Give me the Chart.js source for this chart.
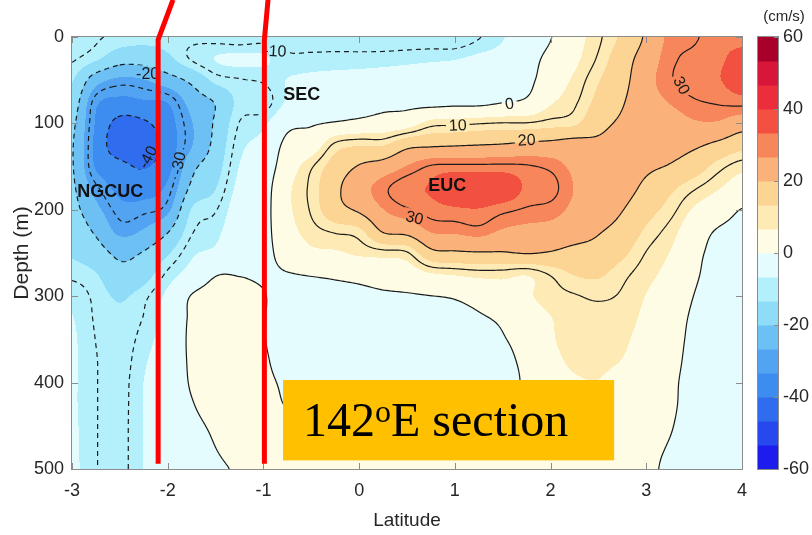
<!DOCTYPE html>
<html>
<head>
<meta charset="utf-8">
<script src="https://cdn.jsdelivr.net/npm/chart.js@4.4.1/dist/chart.umd.min.js"></script>
<style>
  html, body { margin: 0; padding: 0; background: #fff; }
</style>
</head>
<body>
<canvas id="chart" width="812" height="535"></canvas>
<script>
// grid of the section: latitude (deg) x depth (m)
const latitudes = [-3, -2.75, -2.5, -2.25, -2, -1.75, -1.5, -1.25, -1, -0.75, -0.5, -0.25, 0, 0.25, 0.5, 0.75, 1, 1.25, 1.5, 1.75, 2, 2.25, 2.5, 2.75, 3, 3.25, 3.5, 3.75, 4];
const depths = [0, 25, 50, 75, 100, 125, 150, 175, 200, 225, 250, 275, 300, 325, 350, 375, 400, 425, 450, 475, 500];

// zonal velocity (cm/s), one row per depth
const u0   = [-8, -9.5, -11, -12, -12, -11, -11.5, -12.5, -11.5, -12, -12, -12, -12, -12.5, -12.5, -12.5, -13, -10.3, -7, -3, -0.2, 4.5, 9.2, 14.5, 21, 28, 29.5, 32, 32];
const u25  = [-9.5, -12.5, -17, -17, -14.5, -9.5, -6.5, -5.5, -6, -9, -9, -8.8, -8.8, -8.5, -8, -7.5, -7, -5.5, -4.5, -2, 1.5, 5.5, 10.6, 17, 23, 29, 31, 32.5, 35];
const u50  = [-13, -24, -28, -27, -23, -18.5, -12, -10.3, -9.5, -6.5, -5.5, -5, -4.5, -4, -3.5, -3, -2.5, -2, -2, -1.5, 3.5, 7.5, 13, 18, 24.5, 29.5, 32, 33, 36];
const u75  = [-16, -32, -35, -34, -33, -24, -19.5, -12, -12, -6, -4, -3, -2.5, -1.5, -1.5, -2, -1.5, -1.5, -0.3, 1, 6, 9.3, 15, 19.5, 24, 27, 29.5, 30.5, 31.5];
const u100 = [-18.5, -34, -42, -41, -36, -27, -19, -9.8, -7.5, -1.5, -0.5, 0.5, 1.5, 2.5, 4, 8.5, 9, 9.8, 10.3, 10.3, 11.5, 12.5, 18, 21, 23, 24, 26, 26, 23];
const u125 = [-19.5, -35, -44, -44, -37, -27, -18, -8, -5, 1.5, 3, 11, 13, 13, 18, 19, 19.5, 20, 20.5, 21.5, 22, 23, 21.5, 22.5, 22, 22, 21, 18.5, 15.5];
const u150 = [-19.5, -34, -38, -40.5, -35.5, -22, -16, -6.5, -3.5, 3.5, 9.5, 16, 20.5, 23, 27, 30.5, 31, 31, 31, 30.5, 29, 25.5, 24, 23, 21, 19.5, 16.5, 11.5, 8];
const u175 = [-19, -29, -35, -36, -32, -18.5, -13.5, -5, -2.5, 5.5, 11, 18.5, 24, 29, 32.5, 33.8, 38, 38, 37.5, 32.5, 31.5, 26.5, 24.5, 22.5, 18.5, 14.5, 10.5, 7, 4];
const u200 = [-18, -25, -31.5, -31, -28, -13, -10.3, -3.5, -2, 5.5, 10.5, 17.5, 21, 26.5, 29.5, 31.5, 32.5, 33, 31, 29.5, 28.5, 25.5, 23.5, 20.2, 15.5, 11.5, 6, 3, -0.2];
const u225 = [-16, -21, -28, -26, -20.5, -10.5, -8, -2.5, -1.8, 4.5, 8.5, 10.5, 12, 20.5, 22, 27, 27.5, 28.5, 26, 25, 24.5, 23, 20.5, 17.5, 12.5, 8.5, 3, -0.5, -1.5];
const u250 = [-14, -17, -21.5, -19.5, -14, -7.5, -5.5, -1.5, -1.5, 2.5, 5.5, 6, 7.5, 8.5, 9.5, 18, 19, 19.5, 19.5, 20.3, 19.5, 18, 17.5, 14.5, 9.8, 6.5, 1.5, -1.5, -2.5];
const u275 = [-11, -13, -18, -16, -9, -4.5, -0.3, -0.2, -0.8, -0.3, 0.3, 0.8, 1.5, 2.5, 3.5, 6, 7, 8, 8, 7, 10.3, 13.5, 14, 11, 8, 5, 0.8, -2, -3];
const u300 = [-7.5, -11, -14, -11, -5.5, 0.3, 2, 2.5, 0.3, -2, -2, -1.5, -1.2, -0.7, -0.5, -0.1, 0.5, 2, 4.5, 6, 8.5, 9.7, 10.5, 9.5, 6.5, 3.5, -0.1, -2.5, -3.5];
const u325 = [-6.5, -10.5, -12.5, -9.8, -4.5, 0.8, 3, 3.5, 0.3, -2.5, -2.5, -2.5, -2.5, -2, -2, -1.5, -1, -0.5, 1, 4, 6.5, 9, 9, 8.5, 5.5, 2.5, -0.8, -2.8, -3.5];
const u350 = [-6, -10.1, -12, -8.5, -4, 1, 3.5, 4, 0.3, -2.5, -2.7, -3, -3, -3, -2.8, -2.5, -2, -1.5, -0.3, 2, 6, 8.5, 8, 7.5, 4.5, 2, -1.2, -3, -3.5];
const u375 = [-6, -9.8, -11.8, -7.3, -3.5, 0.8, 3.5, 4, 0.8, -2, -2.5, -3, -3, -3, -3, -2.5, -2, -1.5, -0.8, 1, 5, 7.5, 7.3, 6.5, 3.5, 1.5, -1.5, -3, -3.5];
const u400 = [-6, -9.8, -11.5, -6.6, -3.5, 0.5, 3, 3.8, 1.2, -0.8, -1.8, -2.5, -2.5, -2.5, -2.5, -2, -1.5, -1, -0.6, 0.5, 4, 6, 6.5, 5, 3, 1, -1.8, -3, -3.5];
const u425 = [-6, -9.8, -11.4, -6.5, -3.5, -0.3, 2, 3.3, 1.5, -0.2, -0.5, -1, -1, -1, -1, -0.8, -0.5, -0.3, -0.1, 0.8, 3.5, 4.5, 5, 4, 2, 0.8, -2, -3, -3.5];
const u450 = [-5.8, -9.8, -11.3, -6.5, -3.5, -1.2, 0.8, 2.5, 1.8, 0.8, 0.7, 0.5, 0.5, 0.5, 0.5, 0.5, 0.5, 0.5, 0.8, 1.6, 3, 3.5, 4, 3, 1.5, 0.3, -2.2, -3, -3.5];
const u475 = [-5.7, -9.8, -11.3, -6.5, -3.5, -2, 0, 1.5, 2, 1.5, 1.5, 1.5, 1.5, 1.5, 1.5, 1.5, 1.5, 1.5, 1.5, 2, 3, 3, 3, 2.5, 1, -0.3, -2.3, -3, -3.5];
const u500 = [-5.5, -9.8, -11.3, -6.5, -3.5, -2.5, -0.7, 0.5, 2, 2, 2, 2, 2, 2, 2, 2, 2, 2, 2, 2.3, 3, 3, 2.5, 2, 0.8, -0.8, -2.5, -3, -3.5];
const velocity = [u0, u25, u50, u75, u100, u125, u150, u175, u200, u225, u250, u275, u300, u325, u350, u375, u400, u425, u450, u475, u500];

const latTicks = [-3, -2, -1, 0, 1, 2, 3, 4];
const depthTicks = [0, 100, 200, 300, 400, 500];
const cbarTicks = [-60, -40, -20, 0, 20, 40, 60];
const contourLevels = [-40, -30, -20, -10, 0, 10, 20, 30];

// the two section lines drawn on the figure (lat, depth)
const westLine = [{ x: -2.10, y: 494 }, { x: -2.10, y: 3 }, { x: -1.945, y: -43 }];
const eastLine = [{ x: -0.99, y: 494 }, { x: -0.99, y: 3 }, { x: -0.952, y: -43 }];

const contourLabels = [
  { text: '-20', lat: -2.21, depth: 42, angle: 0 },
  { text: '-40', lat: -2.21, depth: 139, angle: -62 },
  { text: '-30', lat: -1.89, depth: 146, angle: -78 },
  { text: '-10', lat: -0.88, depth: 16, angle: 3 },
  { text: '0', lat: 1.57, depth: 77, angle: -8 },
  { text: '10', lat: 1.03, depth: 102, angle: -2 },
  { text: '20', lat: 1.75, depth: 119, angle: -3 },
  { text: '30', lat: 0.58, depth: 209, angle: 14 },
  { text: '30', lat: 3.37, depth: 56, angle: 62 }
];
const currentNames = [
  { text: 'NGCUC', lat: -2.60, depth: 180 },
  { text: 'SEC', lat: -0.60, depth: 67 },
  { text: 'EUC', lat: 0.92, depth: 173 }
];

// 18 colour bands from -60 to 60
const bandColors = ['#1c1cee', '#2648ec', '#2f6cee', '#3d8cf0', '#52a4f2', '#6cc0f4', '#8edcf8', '#b4f0fc', '#e4fcfe',
                    '#fffce6', '#fdeab4', '#fcd494', '#fab27a', '#f7865a', '#f25040', '#ec2e3c', '#d8163a', '#a8002a'];
const cMin = -60, cMax = 60, bandStep = (cMax - cMin) / bandColors.length;
const bandRGB = bandColors.map(h => [parseInt(h.slice(1, 3), 16), parseInt(h.slice(3, 5), 16), parseInt(h.slice(5, 7), 16)]);

const axisGrey = '#8c8c8c';
const textDark = '#262626';
const sans = "'Liberation Sans', Arial, Helvetica, sans-serif";

Chart.defaults.font.family = sans;
Chart.defaults.color = textDark;

// Catmull-Rom interpolation of the grid, used only for smooth drawing
function catmull(p0, p1, p2, p3, t) {
  return p1 + 0.5 * t * (p2 - p0 + t * (2 * p0 - 5 * p1 + 4 * p2 - p3 + t * (3 * (p1 - p2) + p3 - p0)));
}
function sampleField(lat, depth) {
  const nx = latitudes.length, ny = depths.length;
  const fx = (lat - latitudes[0]) / (latitudes[1] - latitudes[0]);
  const fy = (depth - depths[0]) / (depths[1] - depths[0]);
  const ix = Math.min(nx - 2, Math.max(0, Math.floor(fx)));
  const iy = Math.min(ny - 2, Math.max(0, Math.floor(fy)));
  const tx = fx - ix, ty = fy - iy;
  const val = (i, j) => velocity[Math.min(ny - 1, Math.max(0, j))][Math.min(nx - 1, Math.max(0, i))];
  const r = [];
  for (let m = -1; m <= 2; m++) {
    r.push(catmull(val(ix - 1, iy + m), val(ix, iy + m), val(ix + 1, iy + m), val(ix + 2, iy + m), tx));
  }
  return catmull(r[0], r[1], r[2], r[3], ty);
}

// marching squares, segments joined into polylines
function traceContours(vals, xs, ys, level) {
  const nx = xs.length, ny = ys.length;
  const g = (i, j) => vals[j * nx + i];
  const H = (i, j) => (j * nx + i) * 2;
  const V = (i, j) => (j * nx + i) * 2 + 1;
  const segA = [], segB = [];
  const add = (e1, e2) => { segA.push(e1); segB.push(e2); };
  for (let j = 0; j < ny - 1; j++) {
    for (let i = 0; i < nx - 1; i++) {
      const a = g(i, j), b = g(i + 1, j), c = g(i + 1, j + 1), d = g(i, j + 1);
      const code = (a > level ? 8 : 0) | (b > level ? 4 : 0) | (c > level ? 2 : 0) | (d > level ? 1 : 0);
      if (code === 0 || code === 15) continue;
      const T = H(i, j), R = V(i + 1, j), B = H(i, j + 1), L = V(i, j);
      switch (code) {
        case 1: case 14: add(L, B); break;
        case 2: case 13: add(B, R); break;
        case 3: case 12: add(L, R); break;
        case 4: case 11: add(T, R); break;
        case 6: case 9: add(T, B); break;
        case 7: case 8: add(T, L); break;
        case 5: case 10: {
          const centerUp = (a + b + c + d) / 4 > level;
          if ((code === 5) === centerUp) { add(T, L); add(B, R); } else { add(T, R); add(L, B); }
          break;
        }
      }
    }
  }
  const point = e => {
    const k = e >> 1, i = k % nx, j = (k - i) / nx;
    if (e & 1) {
      const v0 = g(i, j), v1 = g(i, j + 1), t = (level - v0) / (v1 - v0);
      return [xs[i], ys[j] + t * (ys[j + 1] - ys[j])];
    }
    const v0 = g(i, j), v1 = g(i + 1, j), t = (level - v0) / (v1 - v0);
    return [xs[i] + t * (xs[i + 1] - xs[i]), ys[j]];
  };
  const byEdge = new Map();
  for (let s = 0; s < segA.length; s++) {
    for (const e of [segA[s], segB[s]]) {
      if (!byEdge.has(e)) byEdge.set(e, []);
      byEdge.get(e).push(s);
    }
  }
  const used = new Uint8Array(segA.length);
  const lines = [];
  for (let s0 = 0; s0 < segA.length; s0++) {
    if (used[s0]) continue;
    used[s0] = 1;
    const chain = [segA[s0], segB[s0]];
    for (let dir = 0; dir < 2; dir++) {
      while (true) {
        const end = chain[chain.length - 1];
        const next = byEdge.get(end).find(s => !used[s]);
        if (next === undefined) break;
        used[next] = 1;
        chain.push(segA[next] === end ? segB[next] : segA[next]);
      }
      chain.reverse();
    }
    lines.push(chain.map(point));
  }
  return lines;
}

const sectionPlugin = {
  id: 'section',
  beforeDatasetsDraw(chart) {
    const { ctx, chartArea: a, scales: { x, y } } = chart;
    const w = Math.round(a.right - a.left), h = Math.round(a.bottom - a.top);

    // filled bands
    const img = ctx.createImageData(w, h);
    for (let py = 0; py < h; py++) {
      const depth = y.getValueForPixel(a.top + py + 0.5);
      for (let px = 0; px < w; px++) {
        const v = sampleField(x.getValueForPixel(a.left + px + 0.5), depth);
        const k = Math.min(bandColors.length - 1, Math.max(0, Math.floor((v - cMin) / bandStep)));
        const c = bandRGB[k], o = (py * w + px) * 4;
        img.data[o] = c[0]; img.data[o + 1] = c[1]; img.data[o + 2] = c[2]; img.data[o + 3] = 255;
      }
    }
    ctx.putImageData(img, Math.round(a.left), Math.round(a.top));

    // contour lines
    const step = 2;
    const xs = [], ys = [];
    for (let px = a.left; px < a.right; px += step) xs.push(px);
    xs.push(a.right);
    for (let py = a.top; py < a.bottom; py += step) ys.push(py);
    ys.push(a.bottom);
    const vals = new Float64Array(xs.length * ys.length);
    for (let j = 0; j < ys.length; j++) {
      const depth = y.getValueForPixel(ys[j]);
      for (let i = 0; i < xs.length; i++) vals[j * xs.length + i] = sampleField(x.getValueForPixel(xs[i]), depth);
    }

    ctx.save();
    ctx.font = '16px ' + sans;
    ctx.beginPath();
    ctx.rect(a.left, a.top, a.right - a.left, a.bottom - a.top);
    contourLabels.forEach(lb => {
      const cx = x.getPixelForValue(lb.lat), cy = y.getPixelForValue(lb.depth);
      const hw = ctx.measureText(lb.text).width / 2 + 3, hh = 8;
      const an = lb.angle * Math.PI / 180, co = Math.cos(an), si = Math.sin(an);
      const pts = [[-hw, -hh], [-hw, hh], [hw, hh], [hw, -hh]].map(([u, v]) => [cx + u * co - v * si, cy + u * si + v * co]);
      ctx.moveTo(pts[0][0], pts[0][1]);
      pts.slice(1).forEach(p => ctx.lineTo(p[0], p[1]));
      ctx.closePath();
    });
    ctx.clip('evenodd');
    ctx.strokeStyle = '#1a1a1a';
    ctx.lineWidth = 1.2;
    ctx.lineJoin = 'round';
    contourLevels.forEach(level => {
      ctx.setLineDash(level < 0 ? [5, 4] : []);
      traceContours(vals, xs, ys, level).forEach(line => {
        if (line.length < 2) return;
        ctx.beginPath();
        ctx.moveTo(line[0][0], line[0][1]);
        for (let k = 1; k < line.length; k++) ctx.lineTo(line[k][0], line[k][1]);
        ctx.stroke();
      });
    });
    ctx.restore();

    // contour labels
    ctx.save();
    ctx.font = '16px ' + sans;
    ctx.fillStyle = '#1a1a1a';
    ctx.textAlign = 'center';
    ctx.textBaseline = 'middle';
    contourLabels.forEach(lb => {
      ctx.save();
      ctx.translate(x.getPixelForValue(lb.lat), y.getPixelForValue(lb.depth));
      ctx.rotate(lb.angle * Math.PI / 180);
      ctx.fillText(lb.text, 0, 1);
      ctx.restore();
    });
    ctx.font = 'bold 18px ' + sans;
    ctx.fillStyle = '#111';
    currentNames.forEach(n => ctx.fillText(n.text, x.getPixelForValue(n.lat), y.getPixelForValue(n.depth)));
    ctx.restore();

    // axes box with inward ticks
    ctx.save();
    ctx.strokeStyle = axisGrey;
    ctx.lineWidth = 1;
    ctx.strokeRect(a.left - 0.5, a.top - 0.5, a.right - a.left + 1, a.bottom - a.top + 1);
    ctx.beginPath();
    latTicks.forEach(v => {
      const px = Math.round(x.getPixelForValue(v)) + 0.5;
      ctx.moveTo(px, a.bottom); ctx.lineTo(px, a.bottom - 6);
      ctx.moveTo(px, a.top); ctx.lineTo(px, a.top + 6);
    });
    depthTicks.forEach(v => {
      const py = Math.round(y.getPixelForValue(v)) + 0.5;
      ctx.moveTo(a.left, py); ctx.lineTo(a.left + 6, py);
      ctx.moveTo(a.right, py); ctx.lineTo(a.right - 6, py);
    });
    ctx.stroke();
    ctx.restore();
  },
  afterDatasetsDraw(chart) {
    const { ctx, scales: { x, y } } = chart;
    // section label box
    const x0 = x.getPixelForValue(-0.795), x1 = x.getPixelForValue(2.664);
    const y0 = y.getPixelForValue(397), y1 = y.getPixelForValue(490);
    ctx.save();
    ctx.fillStyle = '#ffc000';
    ctx.fillRect(x0, y0, x1 - x0, y1 - y0);
    ctx.fillStyle = '#000';
    ctx.textBaseline = 'alphabetic';
    ctx.textAlign = 'left';
    const serif = "'Liberation Serif', 'Times New Roman', serif";
    let tx = x0 + 20;
    const base = y0 + 56;
    ctx.font = '48px ' + serif;
    ctx.fillText('142', tx, base);
    tx += ctx.measureText('142').width;
    ctx.font = '32px ' + serif;
    ctx.fillText('o', tx, base - 14);
    tx += ctx.measureText('o').width;
    ctx.font = '48px ' + serif;
    ctx.fillText('E section', tx, base);
    ctx.restore();
  },
  afterDraw(chart) {
    const { ctx, chartArea: a, scales: { cbar } } = chart;
    ctx.save();
    // axis titles
    ctx.fillStyle = textDark;
    ctx.textAlign = 'center';
    ctx.textBaseline = 'middle';
    ctx.font = '19px ' + sans;
    ctx.fillText('Latitude', (a.left + a.right) / 2, 521);
    ctx.save();
    ctx.translate(22, (a.top + a.bottom) / 2);
    ctx.rotate(-Math.PI / 2);
    ctx.font = '21px ' + sans;
    ctx.fillText('Depth (m)', 0, 0);
    ctx.restore();

    // colour bar
    const bx = a.right + 16, bw = 20;
    bandColors.forEach((col, k) => {
      const v0 = cMin + k * bandStep;
      const top = cbar.getPixelForValue(v0 + bandStep), bot = cbar.getPixelForValue(v0);
      ctx.fillStyle = col;
      ctx.fillRect(bx, top, bw, bot - top + 0.5);
    });
    ctx.strokeStyle = axisGrey;
    ctx.lineWidth = 1;
    const cTop = cbar.getPixelForValue(cMax), cBot = cbar.getPixelForValue(cMin);
    ctx.strokeRect(bx - 0.5, cTop - 0.5, bw + 1, cBot - cTop + 1);
    ctx.beginPath();
    cbarTicks.forEach(v => {
      const py = Math.round(cbar.getPixelForValue(v)) + 0.5;
      ctx.moveTo(bx + bw, py); ctx.lineTo(bx + bw - 4, py);
    });
    ctx.stroke();
    ctx.fillStyle = textDark;
    ctx.font = '15px ' + sans;
    ctx.fillText('(cm/s)', bx + 26, 17);
    ctx.restore();
  }
};

const lineStyle = { showLine: true, borderColor: '#ff0000', borderWidth: 5, pointRadius: 0, borderCapStyle: 'butt', borderJoinStyle: 'miter', clip: false, fill: false };

// keep the plot frame fixed: no extra room for half tick labels
const noPad = s => { s.paddingTop = 0; s.paddingBottom = 0; s.paddingLeft = 0; s.paddingRight = 0; };

new Chart(document.getElementById('chart'), {
  type: 'scatter',
  data: {
    datasets: [
      Object.assign({ label: 'west', data: westLine }, lineStyle),
      Object.assign({ label: 'east', data: eastLine }, lineStyle)
    ]
  },
  options: {
    responsive: false,
    devicePixelRatio: 1,
    animation: false,
    events: [],
    layout: { padding: { top: 37, left: 0, right: 0, bottom: 0 } },
    plugins: { legend: { display: false }, tooltip: { enabled: false } },
    scales: {
      x: {
        type: 'linear', min: -3, max: 4,
        afterBuildTicks: s => { s.ticks = latTicks.map(v => ({ value: v })); },
        afterFit: s => { s.height = 66; noPad(s); },
        grid: { display: false, drawTicks: false },
        border: { display: false },
        ticks: { font: { size: 18 }, color: textDark, padding: 11, maxRotation: 0, autoSkip: false }
      },
      y: {
        type: 'linear', reverse: true, min: 0, max: 500,
        afterBuildTicks: s => { s.ticks = depthTicks.map(v => ({ value: v })); },
        afterFit: s => { s.width = 72; noPad(s); },
        grid: { display: false, drawTicks: false },
        border: { display: false },
        ticks: { font: { size: 18 }, color: textDark, padding: 8, autoSkip: false }
      },
      cbar: {
        type: 'linear', position: 'right', min: cMin, max: cMax,
        afterBuildTicks: s => { s.ticks = cbarTicks.map(v => ({ value: v })); },
        afterFit: s => { s.width = 70; noPad(s); },
        grid: { display: false, drawTicks: false },
        border: { display: false },
        ticks: { font: { size: 18 }, color: textDark, padding: 41, autoSkip: false }
      }
    }
  },
  plugins: [sectionPlugin]
});
</script>
</body>
</html>
